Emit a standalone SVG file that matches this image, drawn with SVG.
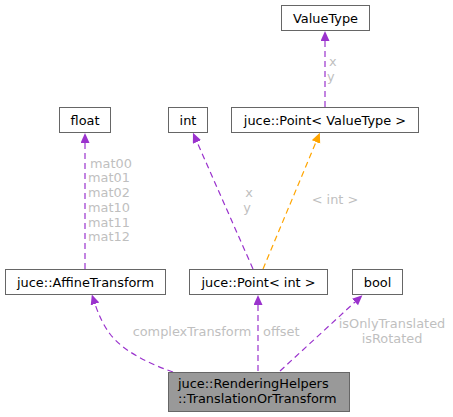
<svg xmlns="http://www.w3.org/2000/svg" width="453" height="417" viewBox="0 0 453 417">
<style>
text{font-family:"DejaVu Sans",sans-serif;font-size:12.9px;}
.n rect{fill:#fff;stroke:#666;stroke-width:1;}
.n text{fill:#000;text-anchor:middle;}
.e{fill:none;stroke-width:1.2;stroke-dasharray:6,4;}
.p{stroke:#9a32cd;}
.o{stroke:#ffa500;}
.l{fill:#bfbfbf;}
</style>
<defs>
<marker id="ap" markerWidth="11" markerHeight="10" refX="0" refY="4.5" orient="auto" markerUnits="userSpaceOnUse"><path d="M0,0 L10,4.5 L0,9 z" fill="#9a32cd"/></marker>
<marker id="ao" markerWidth="11" markerHeight="10" refX="0" refY="4.5" orient="auto" markerUnits="userSpaceOnUse"><path d="M0,0 L10,4.5 L0,9 z" fill="#ffa500"/></marker>
</defs>
<g id="edges">
<path class="e p" d="M325,107 L325,41" marker-end="url(#ap)"/>
<path class="e p" d="M85,269 L85,143" marker-end="url(#ap)"/>
<path class="e p" d="M253,269 L197,142" marker-end="url(#ap)"/>
<path class="e o" d="M263,269 L316,142" marker-end="url(#ao)"/>
<path class="e p" d="M173,372 C150,364 124,352 110,334 C104,326 99,316 95,304" marker-end="url(#ap)"/>
<path class="e p" d="M258,371 L258,305" marker-end="url(#ap)"/>
<path class="e p" d="M280,371 L355,302" marker-end="url(#ap)"/>
<text class="l" x="329" y="66">x</text>
<text class="l" x="327" y="81">y</text>
<text class="l" x="90" y="168">mat00</text>
<text class="l" x="88" y="182">mat01</text>
<text class="l" x="88" y="197">mat02</text>
<text class="l" x="88" y="212">mat10</text>
<text class="l" x="88" y="227">mat11</text>
<text class="l" x="88" y="241">mat12</text>
<text class="l" x="249" y="197" text-anchor="middle">x</text>
<text class="l" x="247" y="212" text-anchor="middle">y</text>
<text class="l" x="335" y="204" text-anchor="middle">&lt; int &gt;</text>
<text class="l" x="192" y="336" text-anchor="middle">complexTransform</text>
<text class="l" x="263" y="336">offset</text>
<text class="l" x="392" y="328" text-anchor="middle">isOnlyTranslated</text>
<text class="l" x="392" y="343" text-anchor="middle">isRotated</text>
</g>
<g id="ValueType" class="n"><rect x="281.5" y="5.5" width="88" height="25"/><text x="325.5" y="22.5">ValueType</text></g>
<g id="float" class="n"><rect x="59.5" y="107.5" width="51" height="25"/><text x="85" y="124.5">float</text></g>
<g id="int" class="n"><rect x="168.5" y="107.5" width="39" height="25"/><text x="188" y="124.5">int</text></g>
<g id="PointValueType" class="n"><rect x="231.5" y="107.5" width="187" height="25"/><text x="325" y="124.5">juce::Point&lt; ValueType &gt;</text></g>
<g id="AffineTransform" class="n"><rect x="5.5" y="269.5" width="160" height="25"/><text x="85.5" y="286.5">juce::AffineTransform</text></g>
<g id="PointInt" class="n"><rect x="189.5" y="269.5" width="138" height="25"/><text x="258.5" y="286.5">juce::Point&lt; int &gt;</text></g>
<g id="bool" class="n"><rect x="352.5" y="269.5" width="50" height="25"/><text x="377.5" y="286.5">bool</text></g>
<g id="Main" class="n"><rect x="168.5" y="372.5" width="181" height="39" style="fill:#999"/><text x="178" y="388" style="text-anchor:start">juce::RenderingHelpers</text><text x="178" y="403" style="text-anchor:start">::TranslationOrTransform</text></g>
</svg>
